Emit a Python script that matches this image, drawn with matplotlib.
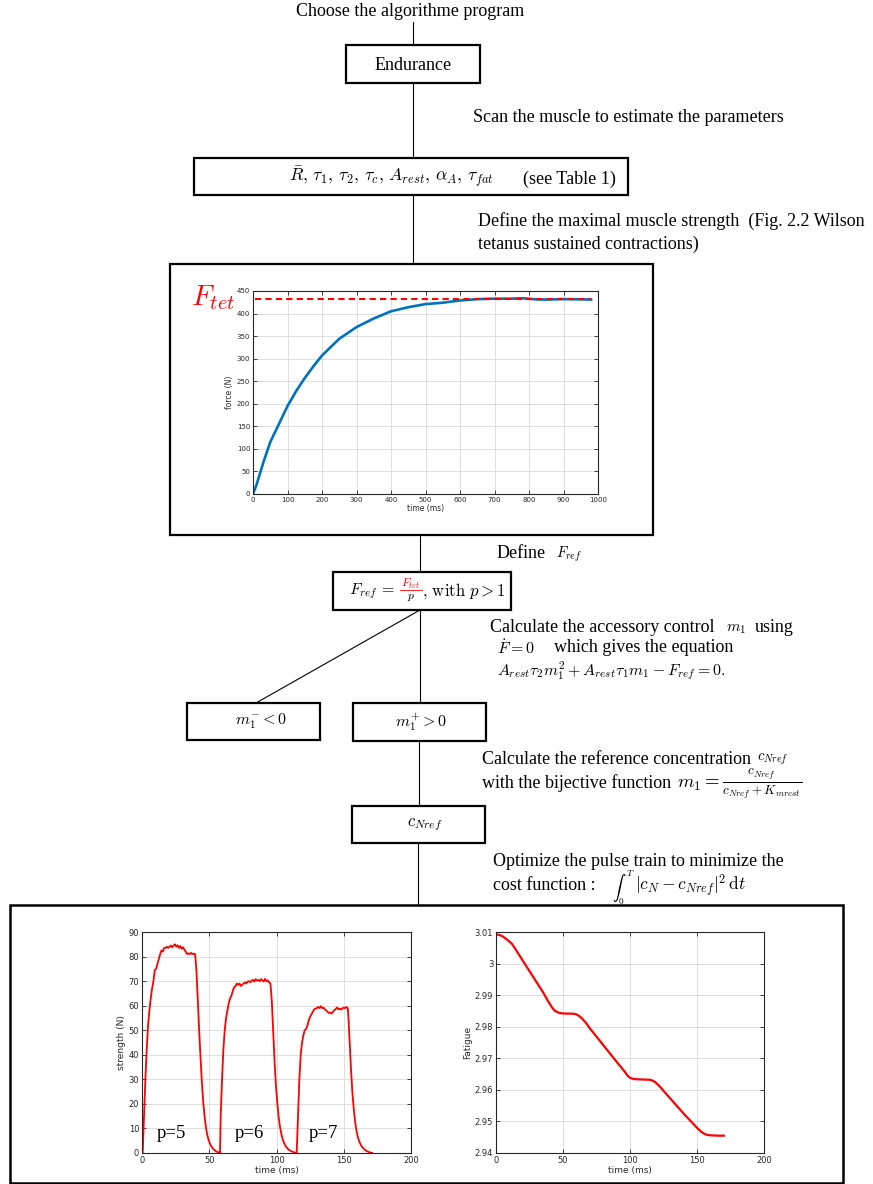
import matplotlib
matplotlib.use("Agg")
import matplotlib.pyplot as plt
from matplotlib.patches import Rectangle

plt.rcParams['font.family'] = ['Liberation Serif', 'DejaVu Serif']
plt.rcParams['mathtext.fontset'] = 'cm'

# ---------------- data ----------------
force_t = [0, 10, 20, 30, 50, 75, 100, 125, 150, 175, 200, 250, 300, 350, 400, 450,
           500, 550, 600, 650, 700, 750, 780, 820, 850, 900, 950, 980]
force_v = [0, 20, 45, 70, 115, 155, 195, 228, 257, 283, 307, 344, 370, 389, 405, 414,
           421, 424, 429, 432, 433, 433, 434, 431.5, 431, 432, 431.5, 431]
F_tet = 433

str_t = [0, 0.5, 1.5, 2.5, 3.5, 4.5, 5.5, 6.5, 7.5, 8.5, 9.5, 10.5, 11.5, 12.5, 13.5, 14.5,
         15.5, 16.5, 17.5, 18.5, 19.5, 20.5, 21.5, 22.5, 23.5, 24.5, 25.5, 26.5, 27.5, 28.5,
         29.5, 30.5, 31.5, 32.5, 33.5, 34.5, 35.5, 36.5, 37.5, 38.5, 39.5, 40.5, 41.5, 42.5,
         43.5, 44.5, 45.5, 46.5, 47.5, 48.5, 49.5, 51, 53, 55, 57, 58,
         58.5, 59.5, 60.5, 61.5, 62.5, 63.5, 64.5, 65.5, 66.5, 67.5, 68.5, 69.5, 70.5, 71.5,
         72.5, 73.5, 74.5, 75.5, 76.5, 77.5, 78.5, 79.5, 80.5, 81.5, 82.5, 83.5, 84.5, 85.5,
         86.5, 87.5, 88.5, 89.5, 90.5, 91.5, 92.5, 93.5, 94.5, 95.5, 96.5, 97.5, 98.5, 99.5,
         100.5, 101.5, 102.5, 103.5, 104.5, 105.5, 107, 109, 111, 113, 115,
         116, 117, 118, 119, 120, 121, 122, 123, 124, 125, 126, 127, 128, 129, 130, 131, 132,
         133, 134, 135, 136, 137, 138, 139, 140, 141, 142, 143, 144, 145, 146, 147, 148, 149,
         150, 151, 152, 153, 153.5, 154.5, 155.5, 156.5, 157.5, 158.5, 159.5, 160.5, 161.5,
         163, 165, 167, 169, 171]
str_v = [0, 0, 15, 30, 42, 52, 58, 63, 67, 70, 74.5, 75, 77, 79, 81, 82.5,
         82, 83.5, 83.5, 84, 83.5, 84, 84.5, 83.8, 84.5, 85, 84, 84.6, 83.5, 84.3,
         83.2, 83.8, 82.8, 82, 81, 81.3, 81, 81.5, 81, 81.2, 81, 74, 62, 50,
         39, 29, 21, 15, 10.5, 7.5, 5.3, 3.2, 1.6, 0.7, 0.2, 0,
         15, 30, 42, 50, 55, 58, 61, 63, 64, 66, 67.5, 68, 69, 68.5,
         69, 68, 68.5, 69, 69.5, 69, 69.8, 70, 69.5, 70.2, 70.5, 69.8, 70.8, 70.2,
         70.5, 70, 70.8, 70.3, 69.8, 70.9, 70, 70.3, 69.5, 69, 62, 50, 38, 28,
         21, 15, 11, 8, 5.8, 4.2, 2.6, 1.4, 0.7, 0.3, 0,
         15, 30, 40, 45, 48, 50, 50.5, 52, 54, 55.5, 56.5, 57.5, 58.5, 58.8, 59, 59.5, 59,
         59.8, 59, 59.2, 58.5, 58, 57.5, 57, 57.2, 56.8, 57.5, 58.2, 58.6, 59.3, 58.5, 58.8, 58.4, 58.9,
         59.2, 59, 59.5, 59, 55, 44, 33, 24, 17.5, 12.5, 9, 6.5, 4.7,
         3, 1.6, 0.8, 0.3, 0.05]

fat_t = [1, 3, 5, 8, 12, 16, 20, 25, 30, 35, 39, 42, 44, 47, 50, 58, 60, 62, 64, 67,
         70, 80, 90, 96, 98, 100, 103, 108, 115, 117, 119, 122, 125, 130, 140, 150,
         153, 155, 157, 160, 165, 170]
fat_v = [3.0092, 3.0090, 3.0086, 3.0077, 3.0062, 3.0036, 3.0009, 2.9976, 2.9943, 2.9910,
         2.9880, 2.9860, 2.9850, 2.9844, 2.9842, 2.9841, 2.9839, 2.9834, 2.9827, 2.9813,
         2.9795, 2.9742, 2.9689, 2.9658, 2.9646, 2.9638, 2.9634, 2.9633, 2.9632, 2.9629,
         2.9624, 2.9612, 2.9597, 2.9573, 2.9525, 2.9480, 2.9468, 2.9462, 2.9458,
         2.9456, 2.9455, 2.9455]

p_labels = ['p=5', 'p=6', 'p=7']
p_label_x = [11, 69, 124]

W, H = 873, 1184
fig = plt.figure(figsize=(W / 100, H / 100), dpi=100)
ax = fig.add_axes([0, 0, 1, 1])
ax.set_xlim(0, W)
ax.set_ylim(H, 0)
ax.axis('off')

FS = 13


def box(x0, y0, x1, y1, lw=1.6):
    ax.add_patch(Rectangle((x0, y0), x1 - x0, y1 - y0, fill=False, ec='black', lw=lw))


def line(x0, y0, x1, y1):
    ax.plot([x0, x1], [y0, y1], color='black', lw=0.8)


def txt(x, y, s, fs=FS, ha='left', **kw):
    ax.text(x, y, s, ha=ha, va='center', fontsize=fs, **kw)


txt(410, 11, 'Choose the algorithme program', ha='center')
line(413, 22, 413, 45)
box(346, 45, 480, 83)
txt(413, 65, 'Endurance', ha='center')
line(413, 83, 413, 158)
txt(473, 118, 'Scan the muscle to estimate the parameters')
box(194, 158, 628, 195)
txt(289, 177, r'$\bar{R},\, \tau_1,\, \tau_2,\, \tau_c,\, A_{rest},\, \alpha_A,\, \tau_{fat}$', fs=12.7)
txt(523, 179, '(see Table 1)')
line(413, 195, 413, 264)
txt(478, 221, 'Define the maximal muscle strength  (Fig. 2.2 Wilson')
txt(478, 244, 'tetanus sustained contractions)')
box(170, 264, 653, 535)
txt(191, 298, r'$F_{tet}$', fs=21, color='red')
line(420, 535, 420, 572)
txt(497, 553, 'Define')
txt(556, 554, r'$F_{ref}$', fs=10.5)
box(333, 572, 511, 610)
txt(349, 591, r'$F_{ref}\,=$', fs=11.5)
txt(411, 584, r'$F_{tet}$', fs=8.5, ha='center', color='red')
ax.plot([400, 422], [589.5, 589.5], color='red', lw=0.6)
txt(411, 597, r'$p$', fs=8.5, ha='center')
txt(422, 591, r'$,\,\mathrm{with}\ p > 1$', fs=12)
line(420, 610, 420, 703)
line(420, 610, 256, 703)
txt(490, 627, 'Calculate the accessory control')
txt(726, 629, r'$m_1$', fs=11)
txt(755, 627, 'using')
txt(497, 649, r'$\dot{F} = 0$', fs=11.5)
txt(554, 648, 'which gives the equation')
txt(497, 671, r'$A_{rest}\tau_2 m_1^2 + A_{rest}\tau_1 m_1 - F_{ref} = 0.$', fs=11.5)
box(187, 703, 320, 740)
txt(261, 721, r'$m_1^{-} < 0$', fs=11.5, ha='center')
box(353, 703, 486, 741)
txt(421, 722, r'$m_1^{+} > 0$', fs=11.5, ha='center')
line(419, 741, 419, 806)
txt(482, 760, 'Calculate the reference concentration')
txt(757, 759, r'$c_{Nref}$', fs=10.5)
txt(482, 783, 'with the bijective function')
txt(677, 784, r'$m_1 = \frac{c_{Nref}}{c_{Nref}+K_{mrest}}$', fs=13.5)
box(352, 806, 485, 843)
txt(425, 825, r'$c_{Nref}$', fs=12, ha='center')
line(418, 843, 418, 905)
txt(493, 861, 'Optimize the pulse train to minimize the')
txt(493, 886, 'cost function :')
txt(612, 888, r'$\int_0^T$', fs=9.5)
txt(635, 886, r'$|c_N - c_{Nref}|^2\,\mathrm{d}t$', fs=12.5)
box(10, 905, 843, 1183, lw=1.8)


def add_axes_px(x0, y0, x1, y1):
    return fig.add_axes([x0 / W, 1 - y1 / H, (x1 - x0) / W, (y1 - y0) / H])


def matlab_style(a, fs):
    a.grid(True, color='#d9d9d9', lw=0.6)
    a.set_axisbelow(True)
    a.tick_params(direction='in', top=True, right=True, length=3, width=0.6,
                  labelsize=fs, colors='#262626', pad=2)
    for s in a.spines.values():
        s.set_linewidth(0.8)
        s.set_color('#262626')
    for lab in a.get_xticklabels() + a.get_yticklabels():
        lab.set_family('DejaVu Sans')


# top plot
a1 = add_axes_px(253, 291, 598, 494)
a1.plot(force_t, force_v, color='#0072BD', lw=1.9)
a1.plot([5, 980], [F_tet, F_tet], color='red', lw=1.5, ls=(0, (3, 2)))
a1.set_xlim(0, 1000)
a1.set_ylim(0, 450)
a1.set_xticks(range(0, 1001, 100))
a1.set_yticks(range(0, 451, 50))
matlab_style(a1, 5)
a1.set_xlabel('time (ms)', fontsize=5.5, family='DejaVu Sans', color='#262626', labelpad=1)
a1.set_ylabel('force (N)', fontsize=5.5, family='DejaVu Sans', color='#262626', labelpad=2)

# bottom left
a2 = add_axes_px(142, 932, 411, 1153)
a2.plot(str_t, str_v, color='red', lw=1.3)
a2.set_xlim(0, 200)
a2.set_ylim(0, 90)
a2.set_xticks(range(0, 201, 50))
a2.set_yticks(range(0, 91, 10))
matlab_style(a2, 6)
a2.set_xlabel('time (ms)', fontsize=6.5, family='DejaVu Sans', color='#262626', labelpad=1)
a2.set_ylabel('strength (N)', fontsize=6.5, family='DejaVu Sans', color='#262626', labelpad=2)
for lab, xx in zip(p_labels, p_label_x):
    a2.text(xx, 8, lab, fontsize=13.5, ha='left', va='center', family='Liberation Serif')

# bottom right
a3 = add_axes_px(496, 932, 764, 1153)
a3.plot(fat_t, fat_v, color='red', lw=1.6)
a3.set_xlim(0, 200)
a3.set_ylim(2.94, 3.01)
a3.set_xticks(range(0, 201, 50))
a3.set_yticks([2.94, 2.95, 2.96, 2.97, 2.98, 2.99, 3.0, 3.01])
a3.set_yticklabels(['2.94', '2.95', '2.96', '2.97', '2.98', '2.99', '3', '3.01'])
matlab_style(a3, 6)
a3.set_xlabel('time (ms)', fontsize=6.5, family='DejaVu Sans', color='#262626', labelpad=1)
a3.set_ylabel('Fatigue', fontsize=6.5, family='DejaVu Sans', color='#262626', labelpad=2)

fig.savefig('out.png', dpi=100)
